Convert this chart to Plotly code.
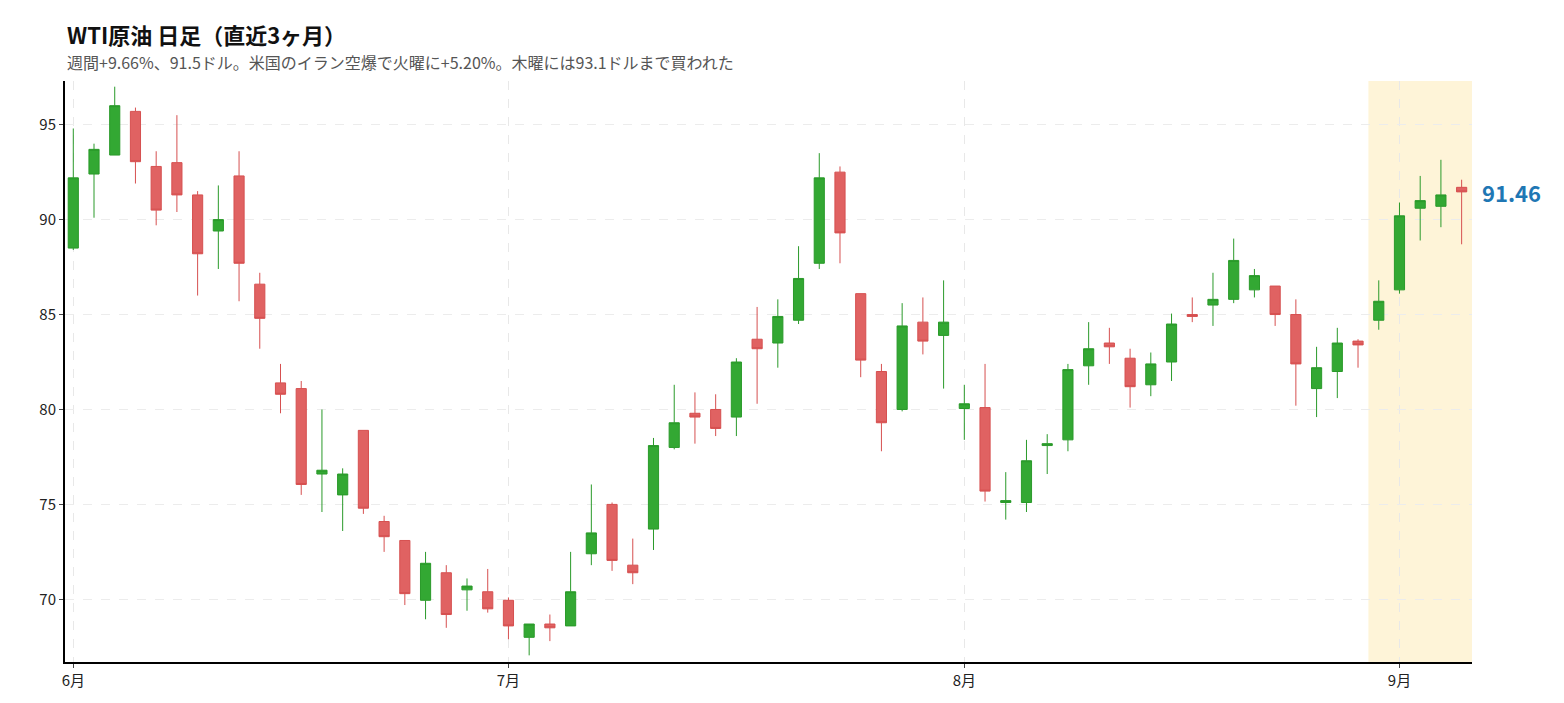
import plotly.graph_objects as go

open_ = [88.5,92.4,93.4,95.7,92.8,93.0,91.3,89.4,92.3,86.6,81.4,81.1,76.6,75.5,78.9,74.1,73.1,69.95,71.4,70.5,70.4,69.95,68.0,68.7,68.6,72.4,75.0,71.8,73.7,78.0,79.8,80.0,79.6,83.7,83.5,84.7,87.7,92.5,86.1,82.0,80.0,84.6,83.9,80.05,80.1,75.1,75.1,78.1,78.4,82.3,83.5,82.7,81.3,82.5,85.0,85.5,85.8,86.3,86.5,85.0,81.1,82.0,83.6,84.7,86.3,90.6,90.7,91.7]
close = [92.2,93.7,96.0,93.05,90.5,91.3,88.2,90.0,87.7,84.8,80.8,76.05,76.8,76.6,74.8,73.3,70.3,71.9,69.2,70.7,69.5,68.6,68.7,68.5,70.4,73.5,72.05,71.4,78.1,79.3,79.6,79.0,82.5,83.2,84.9,86.9,92.2,89.3,82.6,79.3,84.4,83.6,84.6,80.3,75.7,75.2,77.3,78.2,82.1,83.2,83.3,81.2,82.4,84.5,84.9,85.8,87.85,87.05,85.0,82.4,82.2,83.5,83.4,85.7,90.2,91.0,91.3,91.46]
high = [94.8,94.0,97.0,95.9,93.6,95.5,91.5,91.8,93.6,87.2,82.4,81.5,80.0,76.9,78.9,74.4,73.1,72.5,71.8,71.1,71.6,70.1,68.7,69.2,72.5,76.05,75.1,73.2,78.5,81.3,80.9,80.8,82.7,85.4,85.8,88.6,93.5,92.8,86.1,82.4,85.6,85.9,86.8,81.3,82.4,76.7,78.4,78.7,82.4,84.6,84.3,83.2,83.0,85.05,85.9,87.2,89.0,87.4,86.5,85.8,83.3,84.3,83.7,86.8,90.9,92.3,93.15,92.1]
low = [88.4,90.1,93.4,91.9,89.7,90.4,86.0,87.4,85.7,83.2,79.8,75.5,74.6,73.6,74.5,72.5,69.7,68.95,68.5,69.4,69.3,67.9,67.05,67.8,68.6,71.8,71.5,70.8,72.6,77.9,78.2,78.6,78.6,80.3,82.2,84.5,87.4,87.7,81.7,77.8,79.9,82.9,81.1,78.4,75.15,74.2,74.6,76.6,77.8,81.3,82.4,80.1,80.7,81.5,84.6,84.4,85.6,85.9,84.4,80.2,79.6,80.6,82.2,84.2,86.1,88.9,89.6,88.7]
x = list(range(len(close)))
tick_idx = [0, 21, 43, 64]
tick_txt = ["6月", "7月", "8月", "9月"]
title = "WTI原油 日足（直近3ヶ月）"
subtitle = "週間+9.66%、91.5ドル。米国のイラン空爆で火曜に+5.20%。木曜には93.1ドルまで買われた"

font = "Noto Sans CJK JP"
fig = go.Figure(go.Candlestick(
    x=x, open=open_, high=high, low=low, close=close,
    increasing=dict(line=dict(color="#2a9a2a", width=1), fillcolor="#33a833"),
    decreasing=dict(line=dict(color="#d65050", width=1), fillcolor="#e06262"),
    whiskerwidth=0, showlegend=False))

fig.add_vrect(x0=62.5, x1=67.5, fillcolor="#fdf0c8", opacity=0.7, line_width=0, layer="below")
fig.add_annotation(x=67.5, y=close[-1], text="<b>%.2f</b>" % close[-1], showarrow=False,
                   xanchor="left", xshift=8, font=dict(size=22, color="#1f77b4", family=font))
fig.add_annotation(xref="paper", yref="paper", x=0, y=1, yshift=65, xanchor="left", yanchor="top",
                   text="<b>%s</b>" % title, showarrow=False, font=dict(size=22, color="#111", family=font))
fig.add_annotation(xref="paper", yref="paper", x=0, y=1, yshift=33, xanchor="left", yanchor="top",
                   text=subtitle, showarrow=False, font=dict(size=16, color="#555", family=font))

fig.update_layout(
    width=1564, height=703, plot_bgcolor="white", paper_bgcolor="white",
    margin=dict(l=57, r=100, t=73, b=49, autoexpand=False),
    font=dict(family=font, size=15, color="#222"),
    xaxis=dict(range=[-0.4, 67.5], tickvals=tick_idx, ticktext=tick_txt, rangeslider=dict(visible=False),
               showline=True, linecolor="black", linewidth=2, ticks="outside", ticklen=4, automargin=False,
               showgrid=True, gridcolor="#e8e8e8", griddash="dash", zeroline=False),
    yaxis=dict(range=[66.7, 97.3], tickvals=[70, 75, 80, 85, 90, 95], showline=True, linecolor="black",
               linewidth=2, ticks="outside", ticklen=4, showgrid=True, gridcolor="#ececec", griddash="dash",
               zeroline=False, automargin=False),
)
fig.write_html("out.html")
